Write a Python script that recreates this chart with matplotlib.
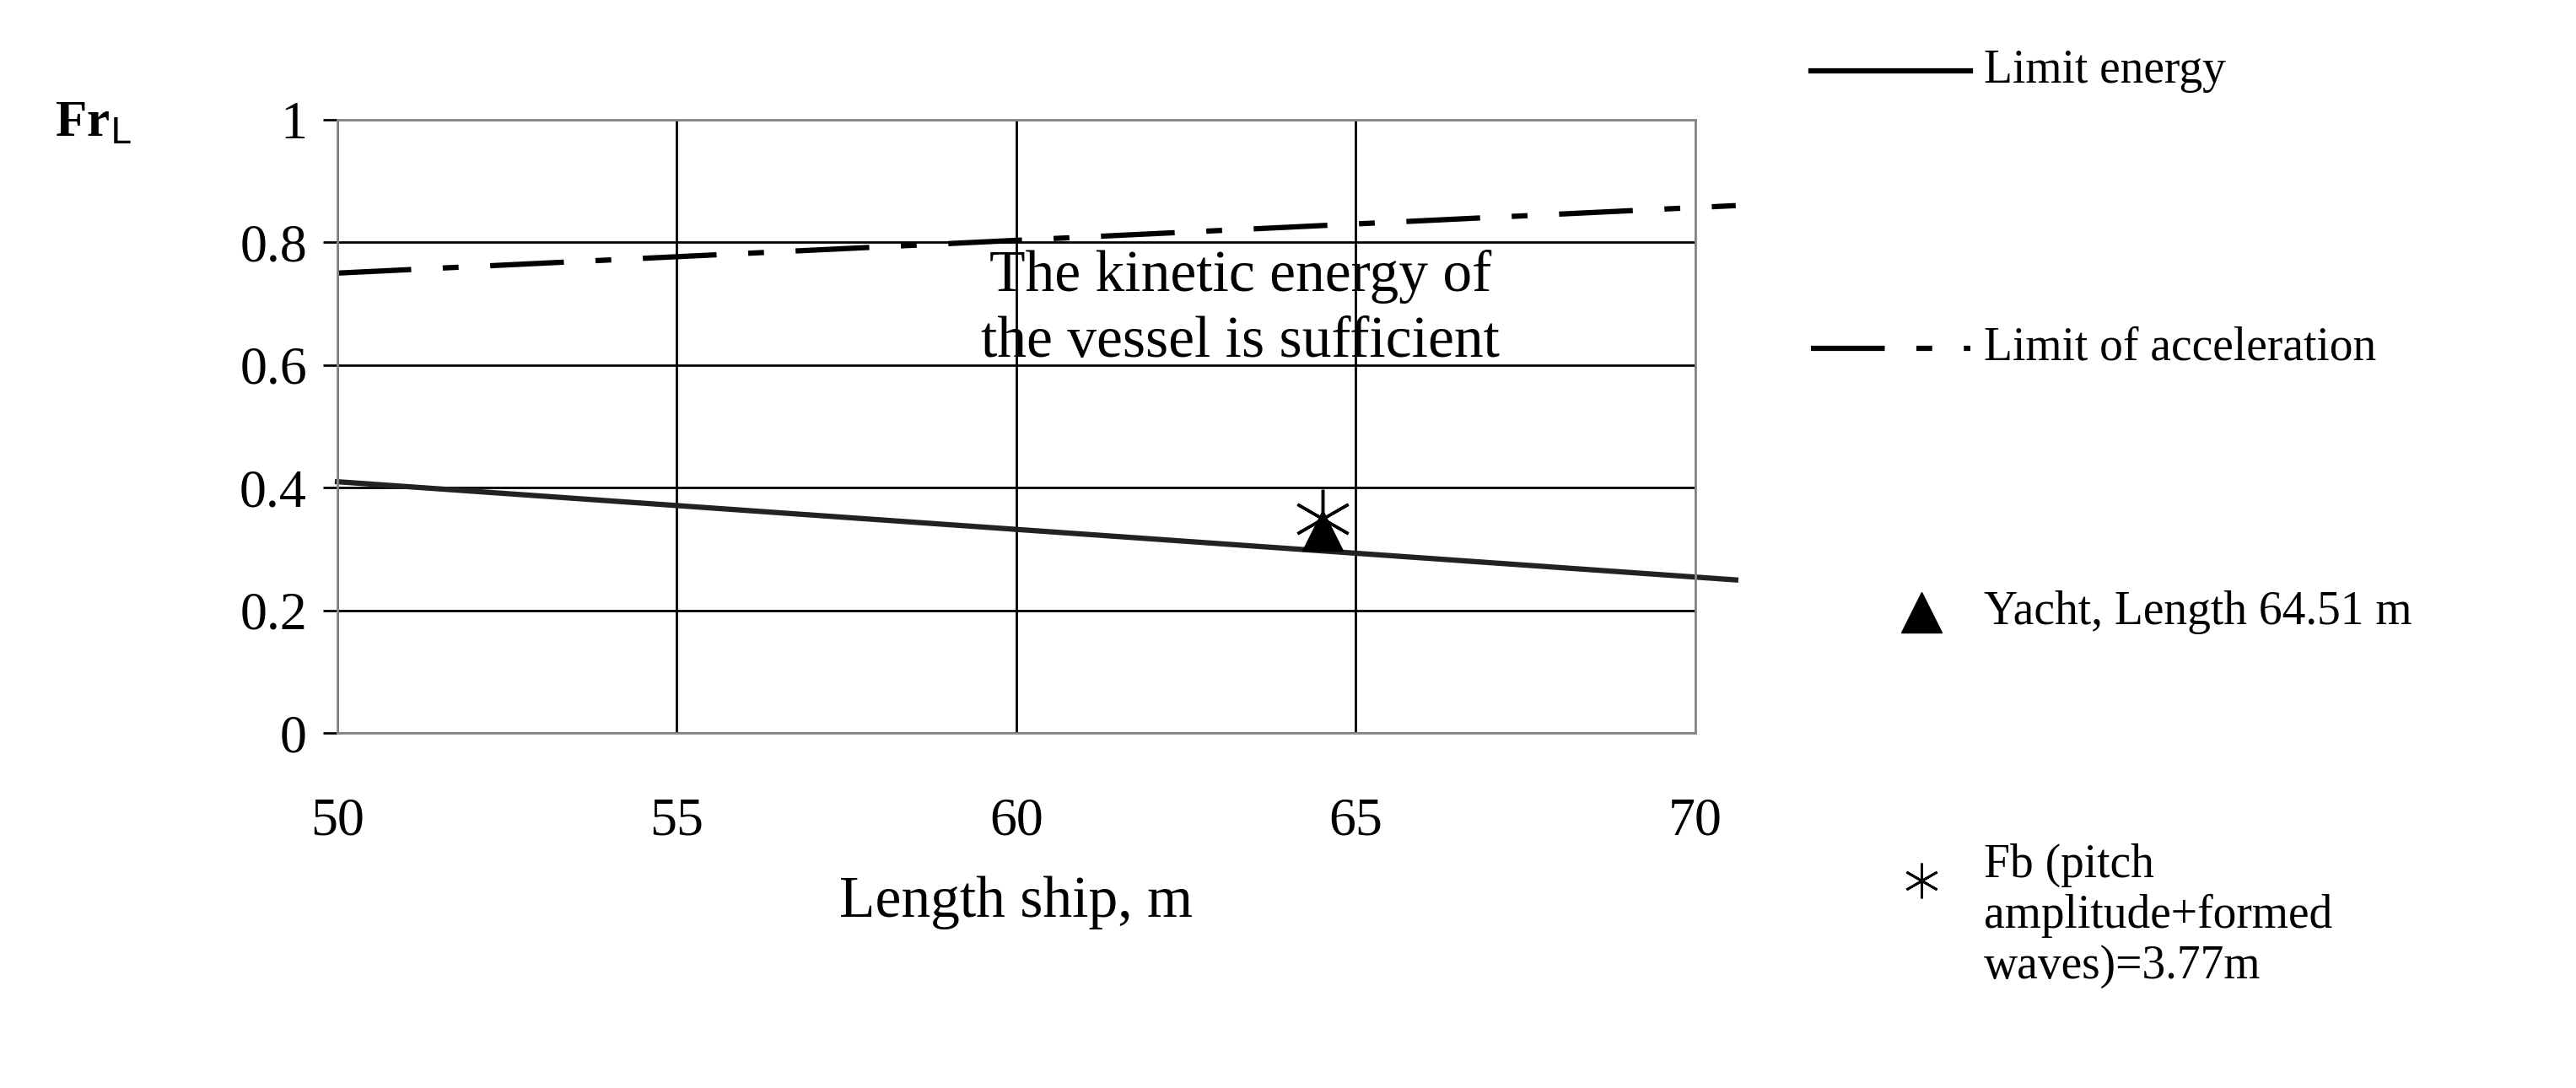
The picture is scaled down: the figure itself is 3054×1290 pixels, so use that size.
import matplotlib
matplotlib.use("Agg")
import matplotlib.pyplot as plt
from matplotlib.lines import Line2D

plt.rcParams['font.family'] = ['Liberation Serif', 'DejaVu Serif']

length = [50, 70.6]
limit_energy = [0.41, 0.25]
limit_accel = [0.75, 0.86]
yacht_x, yacht_y = [64.51], [0.33]
fb_x, fb_y = [64.51], [0.35]
xticks = [50, 55, 60, 65, 70]
yticks = [0, 0.2, 0.4, 0.6, 0.8, 1]

fig = plt.figure(figsize=(30.54, 12.9), dpi=100)
ax = fig.add_axes([0.131, 0.326, 0.527, 0.564])
ax.set_xlim(50, 70)
ax.set_ylim(0, 1)
ax.set_xticks(xticks)
ax.set_yticks(yticks)
ax.set_yticklabels(['0', '0.2', '0.4', '0.6', '0.8', '1'])
ax.grid(True, color='black', lw=2)
for s in ax.spines.values():
    s.set_color('#888888'); s.set_linewidth(2)
ax.tick_params(axis='x', length=0, pad=55, labelsize=46)
ax.tick_params(axis='y', length=12, width=2, labelsize=46, pad=14)
ax.plot(length, limit_energy, color='#222222', lw=4.5, clip_on=False)
ax.plot(length, limit_accel, color='black', lw=4.5, dashes=(14, 6, 3, 6), clip_on=False)
ax.plot(yacht_x, yacht_y, marker='^', color='black', ms=34, ls='none', zorder=5)
ax.plot(fb_x, fb_y, marker=(6, 2, 0), color='black', ms=50, mew=2.5, ls='none', zorder=5)
ax.text(63.3, 0.69, 'The kinetic energy of\nthe vessel is sufficient', fontsize=50,
        ha='center', va='center', linespacing=1.3)
ax.set_xlabel('Length ship, m', fontsize=50, labelpad=25)
fig.text(0.036, 0.875, r'Fr$_{\mathrm{L}}$', fontsize=44, fontweight='bold', ha='center')

def leg_line(y, **kw):
    fig.add_artist(Line2D([0.703, 0.765], [y, y], color='black', lw=4.5, **kw))
leg_line(0.935)
fig.text(0.770, 0.935, 'Limit energy', fontsize=40, va='center')
leg_line(0.68, dashes=(14, 6, 3, 6))
fig.text(0.770, 0.68, 'Limit of acceleration', fontsize=40, va='center')
fig.add_artist(Line2D([0.746], [0.437], marker='^', color='black', ms=34, ls='none'))
fig.text(0.770, 0.437, 'Yacht, Length 64.51 m', fontsize=40, va='center')
fig.add_artist(Line2D([0.746], [0.191], marker=(6, 2, 0), color='black', ms=30, mew=2, ls='none'))
fig.text(0.770, 0.225, 'Fb (pitch\namplitude+formed\nwaves)=3.77m', fontsize=40, va='top',
         linespacing=1.2)
fig.savefig('out.png', dpi=100, facecolor='white')
